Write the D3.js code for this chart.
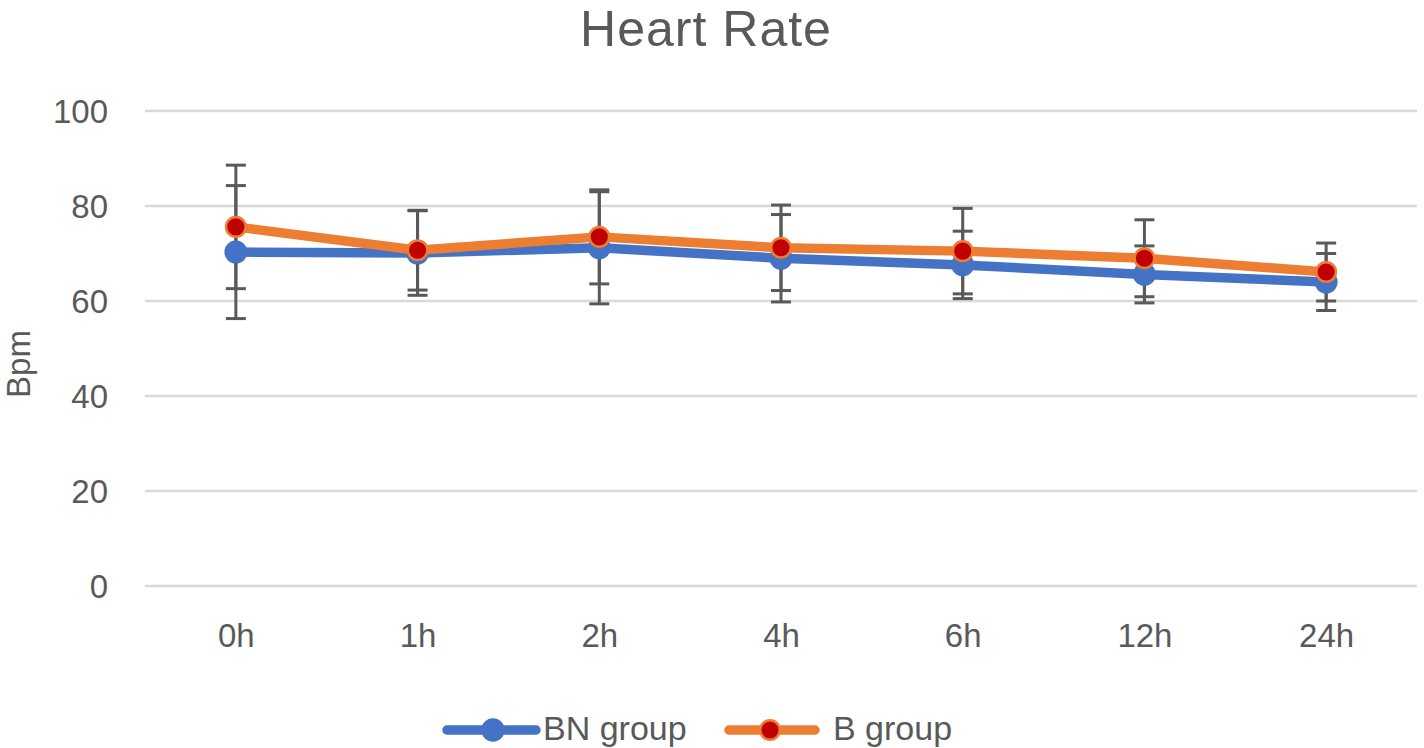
<!DOCTYPE html>
<html><head><meta charset="utf-8">
<script src="https://cdn.jsdelivr.net/npm/d3@7"></script>
<style>body{margin:0;background:#fff}svg{display:block}text{font-family:"Liberation Sans",Arial,sans-serif;fill:#595959}</style>
</head><body>
<script>
const categories = ["0h","1h","2h","4h","6h","12h","24h"];
const bnValues = [70.3, 70.1, 71.2, 69.0, 67.6, 65.6, 64.0];
const bnErrors = [14.0, 8.9, 11.8, 9.2, 7.1, 6.0, 6.0];
const bValues = [75.6, 70.7, 73.5, 71.2, 70.5, 69.0, 66.1];
const bErrors = [13.0, 8.4, 9.9, 9.0, 9.0, 8.1, 6.1];
const yTicks = [0, 20, 40, 60, 80, 100];
const seriesNames = ["BN group", "B group"];

const W = 1424, H = 748;
const svg = d3.select("body").append("svg").attr("width", W).attr("height", H);
const x = d3.scalePoint().domain(categories).range([145, 1417]).padding(0.5);
const y = d3.scaleLinear().domain([0, 100]).range([586, 111]);

const blue = "#4472C4", orange = "#ED7D31", red = "#C00000", grey = "#595959";

// title
svg.append("text").attr("x", 706).attr("y", 46).attr("text-anchor", "middle")
  .style("font-size", "50px").style("letter-spacing", "1px").text("Heart Rate");

// y axis label
svg.append("text").attr("transform", "translate(30,364) rotate(-90)").attr("text-anchor", "middle")
  .style("font-size", "33px").text("Bpm");

// gridlines
svg.append("g").selectAll("line").data(yTicks).join("line")
  .attr("x1", 145).attr("x2", 1417).attr("y1", d => y(d)).attr("y2", d => y(d))
  .attr("stroke", "#d9d9d9").attr("stroke-width", 2.5);

// y tick labels
const yAxis = d3.axisLeft(y).tickValues(yTicks).tickSize(0).tickPadding(0);
const yg = svg.append("g").attr("transform", "translate(108,0)").call(yAxis);
yg.select(".domain").remove();
yg.selectAll("text").style("font-size", "33px").attr("fill", grey).attr("font-family", null).attr("dy", "0.35em");

// x tick labels
const xAxis = d3.axisBottom(x).tickSize(0).tickPadding(0);
const xg = svg.append("g").attr("transform", "translate(0,647)").call(xAxis);
xg.select(".domain").remove();
xg.selectAll("text").style("font-size", "33px").attr("fill", grey).attr("font-family", null).attr("dy", 0);

// error bars
function errBars(vals, errs) {
  const g = svg.append("g").attr("stroke", grey).attr("stroke-width", 3);
  categories.forEach((c, i) => {
    const cx = x(c), lo = y(vals[i] - errs[i]), hi = y(vals[i] + errs[i]);
    g.append("line").attr("x1", cx).attr("x2", cx).attr("y1", lo).attr("y2", hi);
    g.append("line").attr("x1", cx - 10).attr("x2", cx + 10).attr("y1", lo).attr("y2", lo);
    g.append("line").attr("x1", cx - 10).attr("x2", cx + 10).attr("y1", hi).attr("y2", hi);
  });
}
errBars(bnValues, bnErrors);
errBars(bValues, bErrors);

const line = d3.line().x((d, i) => x(categories[i])).y(d => y(d));

// BN series
svg.append("path").datum(bnValues).attr("d", line).attr("fill", "none")
  .attr("stroke", blue).attr("stroke-width", 9.5).attr("stroke-linejoin", "round").attr("stroke-linecap", "round");
svg.append("g").selectAll("circle").data(bnValues).join("circle")
  .attr("cx", (d, i) => x(categories[i])).attr("cy", d => y(d)).attr("r", 11.5).attr("fill", blue);

// B series
svg.append("path").datum(bValues).attr("d", line).attr("fill", "none")
  .attr("stroke", orange).attr("stroke-width", 9.5).attr("stroke-linejoin", "round").attr("stroke-linecap", "round");
svg.append("g").selectAll("circle").data(bValues).join("circle")
  .attr("cx", (d, i) => x(categories[i])).attr("cy", d => y(d)).attr("r", 9.8)
  .attr("fill", red).attr("stroke", orange).attr("stroke-width", 2.5);

// legend
const leg = [
  {name: seriesNames[0], x1: 447, x2: 536, mx: 493, tx: 543, color: blue, fill: blue, r: 11.7, sw: 0},
  {name: seriesNames[1], x1: 729, x2: 815, mx: 770, tx: 833, color: orange, fill: red, r: 9.8, sw: 2.5}
];
const lg = svg.append("g");
leg.forEach(l => {
  lg.append("line").attr("x1", l.x1).attr("x2", l.x2).attr("y1", 730).attr("y2", 730)
    .attr("stroke", l.color).attr("stroke-width", 9.5).attr("stroke-linecap", "round");
  lg.append("circle").attr("cx", l.mx).attr("cy", 730).attr("r", l.r).attr("fill", l.fill)
    .attr("stroke", l.sw ? l.color : "none").attr("stroke-width", l.sw);
  lg.append("text").attr("x", l.tx).attr("y", 740).style("font-size", "34px").text(l.name);
});
</script>
</body></html>
